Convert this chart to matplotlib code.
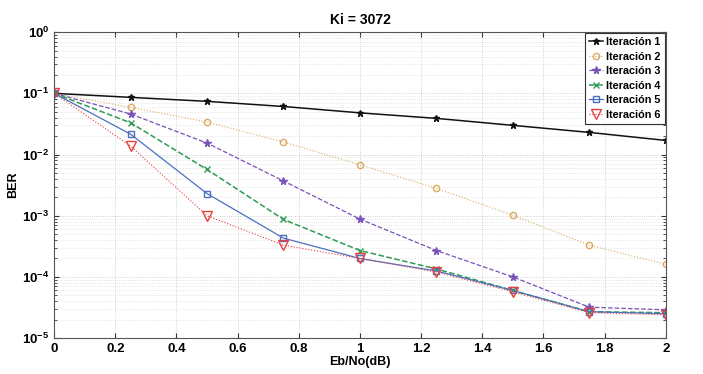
import numpy as np
import matplotlib
matplotlib.use("Agg")
import matplotlib.pyplot as plt

plt.rcParams['font.family'] = ['Liberation Sans', 'DejaVu Sans']

ebno = [0, 0.25, 0.5, 0.75, 1.0, 1.25, 1.5, 1.75, 2.0]
it1 = [0.1, 0.086, 0.074, 0.061, 0.048, 0.039, 0.030, 0.023, 0.017]
it2 = [0.1, 0.059, 0.034, 0.016, 0.0068, 0.0028, 0.00102, 0.00033, 0.00016]
it3 = [0.1, 0.046, 0.0154, 0.0037, 0.00088, 0.00027, 0.0001, 3.2e-05, 2.9e-05]
it4 = [0.1, 0.033, 0.0057, 0.00087, 0.00027, 0.000135, 6e-05, 2.7e-05, 2.6e-05]
it5 = [0.1, 0.0215, 0.0023, 0.00043, 0.0002, 0.000125, 6e-05, 2.7e-05, 2.5e-05]
it6 = [0.1, 0.0138, 0.001, 0.00033, 0.0002, 0.00012, 5.7e-05, 2.6e-05, 2.4e-05]
labels = ['Iteración 1', 'Iteración 2', 'Iteración 3', 'Iteración 4', 'Iteración 5', 'Iteración 6']

fig = plt.figure(figsize=(7.03, 3.74), dpi=100)
ax = fig.add_axes([0.077, 0.096, 0.870, 0.818])

ax.semilogy(ebno, it1, '-*', color='#111111', lw=1.1, ms=4.5, label=labels[0])
ax.semilogy(ebno, it2, ':o', color='#d9a050', lw=0.8, ms=4.5, mfc='none', alpha=0.9, label=labels[1])
ax.semilogy(ebno, it3, '--*', color='#7a52b8', lw=0.9, ms=5.5, label=labels[2])
ax.semilogy(ebno, it4, '--x', color='#2f9a55', lw=1.1, ms=5, label=labels[3])
ax.semilogy(ebno, it5, '-s', color='#4a70c0', lw=0.9, ms=4.5, mfc='none', label=labels[4])
ax.semilogy(ebno, it6, ':v', color='#e8403a', lw=0.8, ms=6.5, mfc='none', label=labels[5])

ax.set_xlim(0, 2)
ax.set_ylim(1e-5, 1)
ax.set_xticks(np.arange(0, 2.01, 0.2))
ax.set_xticklabels(['0', '0.2', '0.4', '0.6', '0.8', '1', '1.2', '1.4', '1.6', '1.8', '2'])
ax.grid(True, which='major', ls=':', color='#c4c4c4', lw=0.6)
ax.grid(True, which='minor', axis='y', ls=':', color='#d6d6d6', lw=0.5)
ax.tick_params(which='both', direction='in', top=True, right=True, labelsize=9.5, colors='#333333')
ax.tick_params(axis='y', which='minor', length=2)
for t in ax.get_xticklabels() + ax.get_yticklabels():
    t.set_fontweight('bold')
    t.set_color('black')
for s in ax.spines.values():
    s.set_color('#555555')
    s.set_linewidth(0.8)

ax.set_title('Ki = 3072', fontsize=10, fontweight='bold')
ax.set_xlabel('Eb/No(dB)', fontsize=9, fontweight='bold', labelpad=1)
ax.set_ylabel('BER', fontsize=9, fontweight='bold', labelpad=2)

leg = ax.legend(loc='upper right', prop={'weight': 'bold', 'size': 7.8},
                fancybox=False, framealpha=1, edgecolor='#333333', borderaxespad=0.1,
                handlelength=1.3, handletextpad=0.3, labelspacing=0.42, borderpad=0.35)
leg.get_frame().set_linewidth(0.8)

fig.savefig('out.png', dpi=100)
